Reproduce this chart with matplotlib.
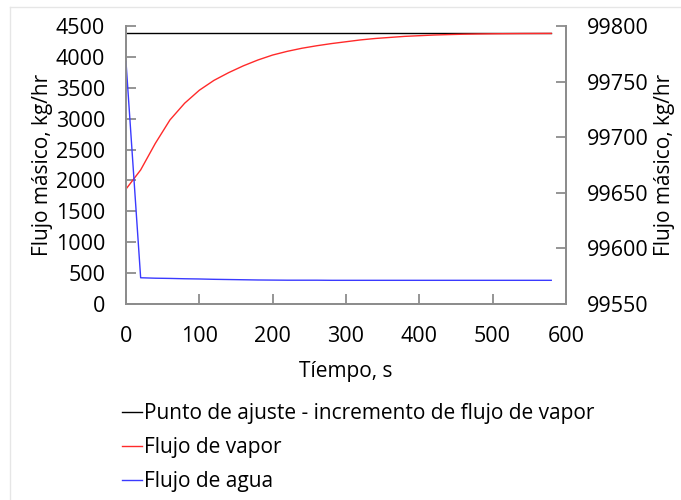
import matplotlib.pyplot as plt
from matplotlib.lines import Line2D

plt.rcParams['font.family'] = ['Open Sans', 'DejaVu Sans']

# Sampled every 20 s over the run
tiempo = [0, 20, 40, 60, 80, 100, 120, 140, 160, 180, 200, 220, 240, 260, 280,
          300, 320, 340, 360, 380, 400, 420, 440, 460, 480, 500, 520, 540, 560, 580]

# Setpoint after the steam flow step, kg/hr
punto_ajuste = [4382] * len(tiempo)

# Steam flow, kg/hr (left axis)
flujo_vapor = [1860, 2170, 2600, 2980, 3250, 3460, 3620, 3745, 3855, 3950,
               4030, 4090, 4140, 4180, 4215, 4245, 4275, 4298, 4315, 4332,
               4343, 4354, 4361, 4367, 4371, 4374, 4376, 4378, 4379, 4380]

# Water flow, kg/hr (right axis)
flujo_agua = [99768.0, 99573.6, 99573.2, 99573.0, 99572.7, 99572.5, 99572.2,
              99572.0, 99571.8, 99571.6, 99571.5, 99571.4, 99571.4, 99571.4,
              99571.3, 99571.3, 99571.3, 99571.3, 99571.3, 99571.3, 99571.3,
              99571.3, 99571.3, 99571.3, 99571.3, 99571.3, 99571.3, 99571.3,
              99571.3, 99571.3]

fig = plt.figure(figsize=(6.81, 5.0), dpi=100)
ax = fig.add_axes([0.185, 0.392, 0.646, 0.556])
ax2 = ax.twinx()

l1, = ax.plot(tiempo, punto_ajuste, color='black', lw=1.0,
              label='Punto de ajuste - incremento de flujo de vapor')
l2, = ax.plot(tiempo, flujo_vapor, color='#ff2a2a', lw=1.0, label='Flujo de vapor')
l3, = ax2.plot(tiempo, flujo_agua, color='#3a3aff', lw=1.0, label='Flujo de agua')

ax.set_xlim(0, 600)
ax.set_ylim(0, 4500)
ax.set_xticks(range(0, 601, 100))
ax.set_yticks(range(0, 4501, 500))
ax2.set_ylim(99550, 99800)
ax2.set_yticks(range(99550, 99801, 50))

for a in (ax, ax2):
    a.spines['top'].set_visible(False)
    for side in ('left', 'right', 'bottom'):
        a.spines[side].set_color('#8c8c8c')
        a.spines[side].set_linewidth(1.3)
    a.tick_params(direction='in', length=7, width=1.3, color='#8c8c8c',
                  labelsize=15.5)
ax.tick_params(axis='y', pad=15)
ax.tick_params(axis='x', pad=16)
ax2.tick_params(axis='y', pad=15)

ax.set_xlabel('Tíempo, s', fontsize=15, labelpad=10)
ax.set_ylabel('Flujo másico, kg/hr', fontsize=15, labelpad=2)
ax2.set_ylabel('Flujo másico, kg/hr', fontsize=15, labelpad=4)

fig.legend(handles=[l1, l2, l3], loc='upper left', bbox_to_anchor=(0.167, 0.21),
           frameon=False, fontsize=15, handlelength=0.95, handletextpad=0.1,
           labelspacing=0.62, borderaxespad=0)

# Thin frame along the top and left edges
fig.add_artist(Line2D([0.015, 1.0], [0.986, 0.986], color='#e6e6e6', lw=1.0))
fig.add_artist(Line2D([0.015, 0.015], [0.0, 0.986], color='#e6e6e6', lw=1.0))

fig.savefig('out.png', dpi=100)
